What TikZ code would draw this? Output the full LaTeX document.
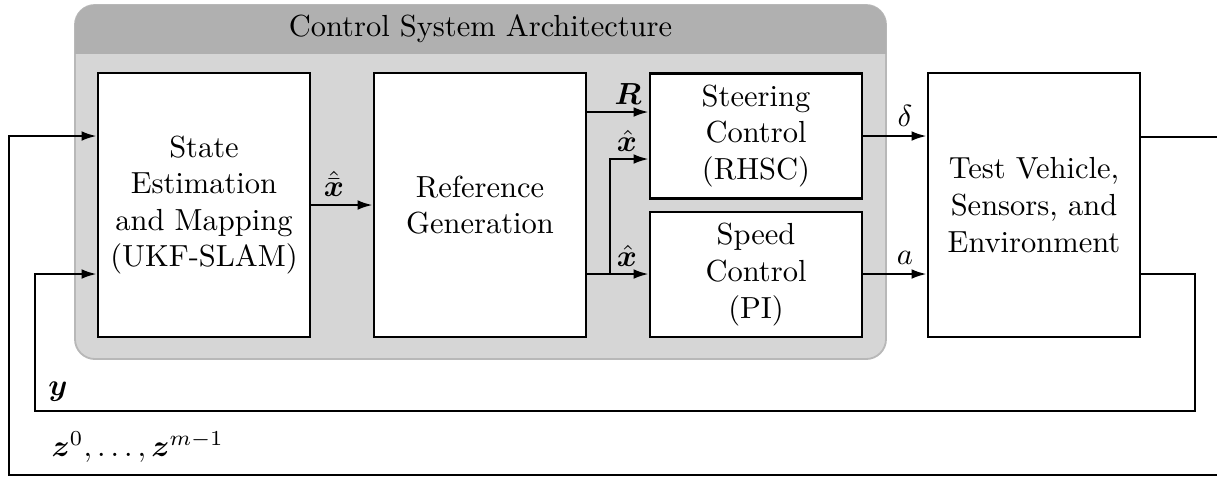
\documentclass[tikz,border=0pt]{standalone}
\usepackage{fontspec}
\usepackage{amsmath}
\usepackage{bm}
\usetikzlibrary{arrows.meta}
\definecolor{hdrgray}{HTML}{B0B0B0}
\definecolor{bodygray}{HTML}{D6D6D6}
\definecolor{rimgray}{HTML}{B8B8B8}
\begin{document}
\begin{tikzpicture}[x=0.3279pt, y=-0.3279pt,
  block/.style={draw, fill=white, line width=0.8pt, minimum width=69.5pt,
    minimum height=86.6pt, align=center, inner sep=0pt},
  half/.style={block, minimum height=41pt},
  sig/.style={line width=0.8pt, -{Latex[length=5pt,width=3.2pt]}},
  lbl/.style={inner sep=1pt}]
\useasboundingbox (0,0) rectangle (1217,476);

% architecture container with its darker title band
\fill[bodygray, draw=rimgray, line width=0.6pt, rounded corners=6.5pt] (75,5) rectangle (886,359);
\begin{scope}
  \clip (70,0) rectangle (891,53);
  \fill[hdrgray, rounded corners=6.5pt] (75,5) rectangle (886,359);
\end{scope}
\node (title) at (480.5,29) {Control System Architecture};

% blocks
\node[block] (slam) at (204,205) {State\\Estimation\\and Mapping\\(UKF-SLAM)};
\node[block] (ref) at (480,205) {Reference\\Generation};
\node[half] (steer) at (756,136) {Steering\\Control\\(RHSC)};
\node[half] (speed) at (756,274.5) {Speed\\Control\\(PI)};
\node[block] (veh) at (1034,205) {Test Vehicle,\\Sensors, and\\Environment};

% forward signals
\draw[sig] (slam) -- (ref);
\draw[sig] (ref.east |- 0,112) -- (steer.west |- 0,112);
\coordinate (br) at (610,274);
\draw[sig] (ref.east |- br) -- (speed.west |- br);
\draw[sig] (br) |- (steer.west |- 0,159);
\draw[sig] (steer) -- (veh.west |- steer);
\draw[sig] (speed.east |- br) -- (veh.west |- br);

% feedback loops
\draw[sig] (veh.east |- 0,137) -- (1240,137) |- (9,475) |- (slam.west |- 0,136);
\draw[sig] (veh.east |- 0,274) -- (1195,274) |- (35,411) |- (slam.west |- 0,274);

% signal labels
\node[lbl] (lxbb) at (334,184) {$\hat{\bar{\bm{x}}}$};
\node[lbl] (lR) at (628,94) {$\bm{R}$};
\node[lbl] (lx1) at (627,141) {$\hat{\bm{x}}$};
\node[lbl] (lx2) at (627,256) {$\hat{\bm{x}}$};
\node[lbl] (ld) at (905,116) {$\delta$};
\node[lbl] (la) at (905,258) {$a$};
\node[lbl] (ly) at (58,392) {$\bm{y}$};
\node[lbl, anchor=west] (lz) at (48,447) {$\bm{z}^0,\dots,\bm{z}^{m-1}$};
\end{tikzpicture}
\end{document}
